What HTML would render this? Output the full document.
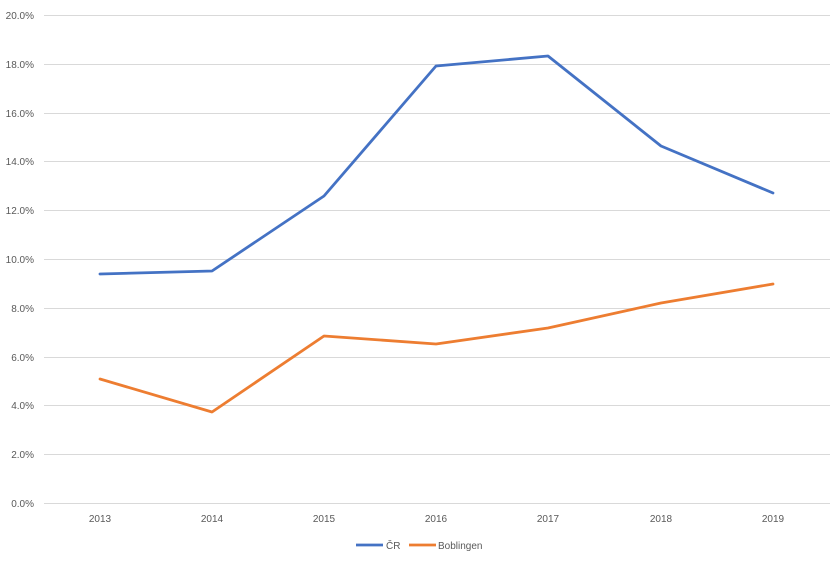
<!DOCTYPE html>
<html><head><style>body{margin:0;background:#fff}svg text{font-family:"Liberation Sans",sans-serif;font-size:10px;fill:#595959}</style></head>
<body>
<svg width="839" height="559" viewBox="0 0 839 559">
<g stroke="#d9d9d9" stroke-width="1">
<line x1="44" x2="830" y1="15.5" y2="15.5"/><line x1="44" x2="830" y1="64.5" y2="64.5"/>
<line x1="44" x2="830" y1="113.5" y2="113.5"/><line x1="44" x2="830" y1="161.5" y2="161.5"/>
<line x1="44" x2="830" y1="210.5" y2="210.5"/><line x1="44" x2="830" y1="259.5" y2="259.5"/>
<line x1="44" x2="830" y1="308.5" y2="308.5"/><line x1="44" x2="830" y1="357.5" y2="357.5"/>
<line x1="44" x2="830" y1="405.5" y2="405.5"/><line x1="44" x2="830" y1="454.5" y2="454.5"/>
<line x1="44" x2="830" y1="503.5" y2="503.5"/>
</g>
<g text-anchor="end">
<text x="34" y="19">20.0%</text><text x="34" y="68">18.0%</text><text x="34" y="117">16.0%</text>
<text x="34" y="165">14.0%</text><text x="34" y="214">12.0%</text><text x="34" y="263">10.0%</text>
<text x="34" y="312">8.0%</text><text x="34" y="361">6.0%</text><text x="34" y="409">4.0%</text>
<text x="34" y="458">2.0%</text><text x="34" y="507">0.0%</text>
</g>
<g text-anchor="middle">
<text x="100" y="522">2013</text><text x="212" y="522">2014</text><text x="324" y="522">2015</text>
<text x="436" y="522">2016</text><text x="548" y="522">2017</text><text x="661" y="522">2018</text><text x="773" y="522">2019</text>
</g>
<polyline fill="none" stroke="#4472c4" stroke-width="2.8" stroke-linejoin="round" stroke-linecap="round" points="100,274 212,271 324,196 436,66 548,56 661,146 773,193"/>
<polyline fill="none" stroke="#ed7d31" stroke-width="2.8" stroke-linejoin="round" stroke-linecap="round" points="100,379 212,412 324,336 436,344 548,328 661,303 773,284"/>
<line x1="356" x2="383" y1="545" y2="545" stroke="#4472c4" stroke-width="2.8"/>
<text x="386" y="549">ČR</text>
<line x1="409" x2="436" y1="545" y2="545" stroke="#ed7d31" stroke-width="2.8"/>
<text x="438" y="549">Boblingen</text>
</svg>
</body></html>
